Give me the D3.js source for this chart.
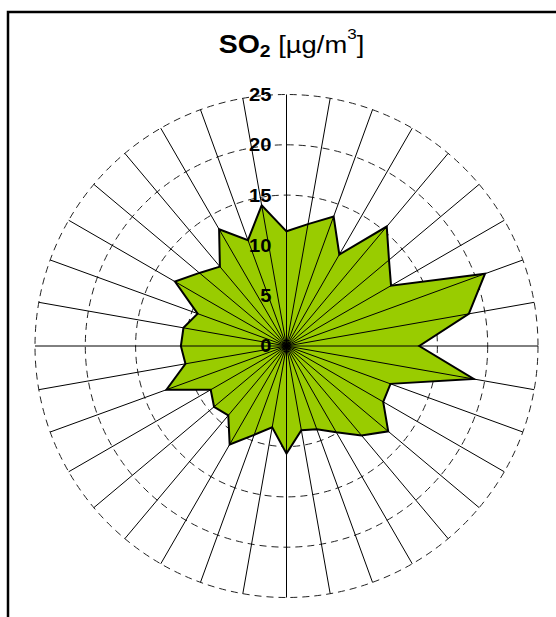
<!DOCTYPE html>
<html>
<head>
<meta charset="utf-8">
<script src="https://cdn.jsdelivr.net/npm/d3@7"></script>
<style>
  body { margin: 0; background: #fff; }
  svg { display: block; font-family: "Liberation Sans", Arial, sans-serif; }
</style>
</head>
<body>
<svg width="556" height="617"></svg>
<script>
// wind direction sectors (degrees, clockwise from north)
var directions = [0, 10, 20, 30, 40, 50, 60, 70, 80, 90, 100, 110,
                  120, 130, 140, 150, 160, 170, 180, 190, 200, 210, 220, 230,
                  240, 250, 260, 270, 280, 290, 300, 310, 320, 330, 340, 350];
// SO2 concentration per sector
var so2 = [11.4, 12.3, 13.7, 10.5, 15.5, 13.3, 12.0, 21.0, 18.4, 13.2, 18.9, 11.0,
           11.1, 13.2, 11.6, 9.9, 8.8, 8.5, 10.7, 8.2, 9.4, 11.3, 9.0, 9.4,
           8.7, 12.7, 10.2, 10.5, 10.4, 9.4, 12.8, 11.3, 10.3, 13.4, 11.2, 14.2];
var ringTicks = [5, 10, 15, 20, 25];
var labelTicks = [0, 5, 10, 15, 20, 25];

var svg = d3.select("svg");
var cx = 286.5, cy = 346;

var r = d3.scaleLinear().domain([0, 25]).range([0, 251.5]);
var ang = d3.scaleLinear().domain([0, 360]).range([0, 2 * Math.PI]);

// frame (right and bottom edges fall outside the picture)
svg.append("rect")
    .attr("x", 8).attr("y", 12)
    .attr("width", 600).attr("height", 650)
    .attr("fill", "none")
    .attr("stroke", "#000")
    .attr("stroke-width", 2.5);

var g = svg.append("g").attr("transform", "translate(" + cx + "," + cy + ")");

// dashed rings
g.append("g").selectAll("circle")
    .data(ringTicks)
    .enter().append("circle")
    .attr("r", function (d) { return r(d); })
    .attr("fill", "none")
    .attr("stroke", "#222")
    .attr("stroke-width", 1)
    .attr("stroke-dasharray", "7,5");

// data polygon
var radial = d3.lineRadial()
    .angle(function (d, i) { return ang(directions[i]); })
    .radius(function (d) { return r(d); })
    .curve(d3.curveLinearClosed);

g.append("path")
    .datum(so2)
    .attr("d", radial)
    .attr("fill", "#99cc00")
    .attr("stroke", "#000")
    .attr("stroke-width", 2)
    .attr("stroke-linejoin", "miter");

// spokes
g.append("g").selectAll("line")
    .data(directions)
    .enter().append("line")
    .attr("x1", 0).attr("y1", 0)
    .attr("x2", function (d) { return r(25) * Math.sin(ang(d)); })
    .attr("y2", function (d) { return -r(25) * Math.cos(ang(d)); })
    .attr("stroke", "#000")
    .attr("stroke-width", 1);

// radial tick labels
g.append("g").selectAll("text")
    .data(labelTicks)
    .enter().append("text")
    .attr("transform", function (d) { return "translate(-15," + (-r(d)) + ") scale(1.12,1)"; })
    .attr("text-anchor", "end")
    .attr("dy", "0.36em")
    .style("font-size", "18px")
    .style("font-weight", "bold")
    .text(function (d) { return d; });

// title
var title = svg.append("text")
    .attr("transform", "translate(291.5,52.5) scale(1.14,1)")
    .attr("text-anchor", "middle");
title.append("tspan").style("font-size", "25px").style("font-weight", "bold").text("SO");
title.append("tspan").style("font-size", "17px").style("font-weight", "bold").attr("dy", 4).text("2");
title.append("tspan").style("font-size", "24px").attr("dy", -4).text(" [µg/m");
title.append("tspan").style("font-size", "15px").attr("dy", -13.5).text("3");
title.append("tspan").style("font-size", "24px").attr("dy", 13.5).text("]");
</script>
</body>
</html>
